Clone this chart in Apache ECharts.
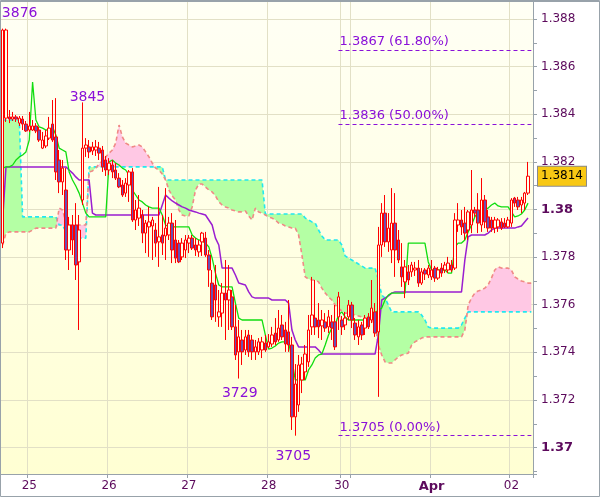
<!DOCTYPE html>
<html><head><meta charset="utf-8">
<script src="https://cdn.jsdelivr.net/npm/echarts@6/dist/echarts.min.js"></script>
<style>html,body{margin:0;padding:0;background:#fff}#c{width:600px;height:497px}</style>
</head><body><div id="c"></div>
<script>
// trading sessions: [day, first hour, number of hourly bars]
const sessions = [['24',16,8],['25',0,24],['26',0,24],['27',0,24],['28',0,22],['30',21,3],['31',0,24],['01',0,24],['02',0,7]];
const sessionLabels = ['', '25', '26', '27', '28', '30', '', 'Apr', '02'];

// [open, close, low, high]
const candles = [
[1.37859,1.38754,1.37838,1.38760],[1.38384,1.38754,1.38368,1.38760],[1.38389,1.38380,1.38363,1.38418],[1.38380,1.38389,1.38372,1.38410],[1.38389,1.38380,1.38368,1.38397],
[1.38363,1.38384,1.38351,1.38393],[1.38380,1.38359,1.38334,1.38393],[1.38359,1.38330,1.38326,1.38372],[1.38334,1.38351,1.38326,1.38410],[1.38334,1.38351,1.38330,1.38376],
[1.38351,1.38330,1.38321,1.38363],[1.38334,1.38292,1.38284,1.38347],[1.38258,1.38292,1.38254,1.38326],[1.38267,1.38309,1.38258,1.38334],[1.38300,1.38342,1.38292,1.38389],
[1.38359,1.38292,1.38284,1.38460],[1.38305,1.38158,1.38124,1.38468],[1.38208,1.38116,1.38069,1.38250],[1.38116,1.38174,1.38061,1.38208],[1.38082,1.37830,1.37788,1.38174],
[1.37830,1.37935,1.37746,1.37969],[1.37935,1.37872,1.37809,1.37977],[1.37935,1.37767,1.37704,1.38027],[1.37780,1.37914,1.37494,1.37977],[1.38040,1.38258,1.38019,1.38450],
[1.38258,1.38271,1.38221,1.38300],[1.38263,1.38242,1.38216,1.38292],[1.38246,1.38263,1.38229,1.38284],[1.38250,1.38263,1.38225,1.38292],[1.38258,1.38237,1.38208,1.38284],
[1.38250,1.38179,1.38158,1.38267],[1.38208,1.38166,1.38141,1.38225],[1.38166,1.38195,1.38145,1.38216],[1.38187,1.38158,1.38132,1.38208],[1.38166,1.38132,1.38124,1.38195],
[1.38132,1.38095,1.38090,1.38153],[1.38103,1.38061,1.38053,1.38124],[1.38069,1.38111,1.38053,1.38132],[1.38103,1.38158,1.38032,1.38166],[1.38158,1.37956,1.37948,1.38174],
[1.37956,1.37998,1.37914,1.38040],[1.37964,1.38006,1.37931,1.38061],[1.37977,1.37901,1.37859,1.37998],[1.37901,1.37943,1.37817,1.37956],[1.37927,1.37948,1.37801,1.38011],
[1.37931,1.37956,1.37788,1.37969],[1.37914,1.37859,1.37801,1.37943],[1.37864,1.37885,1.37759,1.38095],[1.37893,1.37859,1.37809,1.37977],[1.37889,1.37922,1.37788,1.38090],
[1.37893,1.37943,1.37872,1.37969],[1.37943,1.37830,1.37775,1.37985],[1.37872,1.37796,1.37775,1.37956],[1.37859,1.37780,1.37775,1.37872],[1.37801,1.37859,1.37788,1.37880],
[1.37830,1.37872,1.37796,1.37893],[1.37859,1.37880,1.37817,1.37893],[1.37880,1.37838,1.37830,1.37893],[1.37851,1.37830,1.37805,1.37880],[1.37822,1.37851,1.37801,1.37872],
[1.37864,1.37901,1.37805,1.37906],[1.37880,1.37809,1.37801,1.37906],[1.37809,1.37746,1.37675,1.37830],[1.37691,1.37549,1.37536,1.37746],[1.37683,1.37620,1.37528,1.37767],
[1.37549,1.37570,1.37507,1.37662],[1.37565,1.37649,1.37507,1.37691],[1.37649,1.37620,1.37452,1.37788],[1.37620,1.37662,1.37494,1.37767],[1.37633,1.37507,1.37494,1.37662],
[1.37507,1.37389,1.37368,1.37599],[1.37402,1.37465,1.37290,1.37536],[1.37452,1.37402,1.37347,1.37494],[1.37410,1.37465,1.37389,1.37494],[1.37473,1.37402,1.37381,1.37494],
[1.37452,1.37402,1.37368,1.37473],[1.37402,1.37423,1.37368,1.37452],[1.37402,1.37444,1.37389,1.37460],[1.37410,1.37444,1.37376,1.37465],[1.37439,1.37410,1.37402,1.37473],
[1.37423,1.37444,1.37418,1.37477],[1.37435,1.37473,1.37423,1.37507],[1.37481,1.37444,1.37431,1.37544],[1.37452,1.37502,1.37444,1.37578],[1.37515,1.37465,1.37452,1.37557],
[1.37494,1.37435,1.37402,1.37528],[1.37486,1.37431,1.37402,1.37620],[1.37431,1.37129,1.37074,1.37465],[1.37129,1.37267,1.37050,1.37351],[1.37179,1.37347,1.37150,1.37389],
[1.37284,1.37351,1.37229,1.37381],[1.37318,1.37393,1.37284,1.37431],[1.37360,1.37494,1.37339,1.37557],[1.37507,1.37557,1.37473,1.37717],[1.37544,1.37507,1.37473,1.37704],
[1.37536,1.37507,1.37460,1.37607],[1.37511,1.37536,1.37452,1.37578],[1.37528,1.37502,1.37486,1.37565],[1.37507,1.37549,1.37481,1.37578],[1.37528,1.37502,1.37452,1.37557],
[1.37528,1.37423,1.37410,1.37599],[1.37549,1.37633,1.37494,1.37654],[1.37536,1.37507,1.37473,1.37553],[1.37515,1.37544,1.37494,1.37570],[1.37549,1.37599,1.37536,1.37620],
[1.37599,1.37536,1.37502,1.37612],[1.37523,1.37473,1.37452,1.37544],[1.37465,1.37507,1.37431,1.37536],[1.37515,1.37473,1.37452,1.37528],[1.37502,1.37544,1.37473,1.37557],
[1.37549,1.37507,1.37498,1.37565],[1.37536,1.37586,1.37523,1.37704],[1.37570,1.37481,1.37465,1.37607],[1.37486,1.37851,1.37213,1.37927],[1.37851,1.37985,1.37801,1.38027],
[1.37985,1.37864,1.37843,1.38061],[1.37864,1.37922,1.37822,1.37985],[1.37830,1.37943,1.37775,1.38090],[1.37943,1.37830,1.37717,1.38069],[1.37872,1.37788,1.37775,1.37914],
[1.37759,1.37717,1.37675,1.37859],[1.37696,1.37759,1.37628,1.37788],[1.37738,1.37704,1.37683,1.37767],[1.37738,1.37767,1.37717,1.37780],[1.37746,1.37754,1.37721,1.37780],
[1.37754,1.37691,1.37675,1.37788],[1.37691,1.37738,1.37683,1.37754],[1.37746,1.37729,1.37704,1.37754],[1.37725,1.37754,1.37712,1.37767],[1.37717,1.37746,1.37704,1.37788],
[1.37754,1.37712,1.37696,1.37763],[1.37712,1.37746,1.37704,1.37759],[1.37754,1.37733,1.37717,1.37775],[1.37746,1.37767,1.37733,1.37780],[1.37746,1.37775,1.37733,1.37801],
[1.37767,1.37746,1.37738,1.37788],[1.37754,1.37956,1.37746,1.37985],[1.37935,1.37956,1.37906,1.38027],[1.37956,1.37927,1.37893,1.37998],[1.37943,1.37901,1.37872,1.38011],
[1.37914,1.37990,1.37872,1.37998],[1.37935,1.37998,1.37901,1.38166],[1.37998,1.37985,1.37969,1.38011],[1.37998,1.37943,1.37901,1.38069],[1.37935,1.38040,1.37906,1.38132],
[1.38040,1.37948,1.37922,1.38061],[1.37969,1.37922,1.37906,1.37998],[1.37956,1.37922,1.37906,1.37969],[1.37922,1.37956,1.37901,1.37969],[1.37927,1.37956,1.37906,1.37964],
[1.37948,1.37922,1.37914,1.37964],[1.37943,1.37927,1.37922,1.37964],[1.37927,1.37956,1.37922,1.37969],[1.37943,1.38040,1.37927,1.38048],[1.38048,1.38027,1.38011,1.38053],
[1.38040,1.38011,1.37998,1.38053],[1.38019,1.38040,1.37985,1.38053],[1.38027,1.38069,1.37998,1.38074],[1.38069,1.38140,1.38061,1.38200]
];

const tenkan = [
1.38174,1.38179,1.38179,1.38187,1.38208,1.38221,1.38229,1.38242,1.38292,1.38536,
1.38376,1.38347,1.38342,1.38334,1.38334,1.38347,1.38313,1.38258,1.38250,1.38242,
1.38158,1.38124,1.38099,1.38069,1.38027,1.37985,1.37969,1.37969,1.37969,1.37969,
1.37969,1.37969,1.38200,1.38208,1.38195,1.38187,1.38174,1.38166,1.38145,1.38082,
1.38061,1.38040,1.38032,1.38019,1.38011,1.38006,1.38006,1.38006,1.37977,1.37935,
1.37927,1.37927,1.37927,1.37927,1.37927,1.37927,1.37927,1.37893,1.37880,1.37872,
1.37868,1.37859,1.37843,1.37796,1.37733,1.37683,1.37675,1.37675,1.37675,1.37675,
1.37607,1.37544,1.37536,1.37536,1.37536,1.37536,1.37536,1.37536,1.37536,1.37473,
1.37414,1.37418,1.37427,1.37439,1.37444,1.37444,1.37444,1.37368,1.37284,1.37284,
1.37284,1.37284,1.37326,1.37347,1.37376,1.37389,1.37393,1.37431,1.37473,1.37502,
1.37515,1.37557,1.37570,1.37549,1.37536,1.37536,1.37536,1.37536,1.37536,1.37536,
1.37536,1.37544,1.37565,1.37578,1.37586,1.37620,1.37641,1.37649,1.37649,1.37649,
1.37649,1.37649,1.37859,1.37859,1.37859,1.37859,1.37859,1.37859,1.37780,1.37746,
1.37746,1.37746,1.37746,1.37746,1.37733,1.37733,1.37843,1.37859,1.37859,1.37872,
1.37906,1.37935,1.37969,1.37990,1.37994,1.37998,1.38006,1.38019,1.38027,1.38015,
1.38011,1.38011,1.38011,1.37990,1.37969,1.37973,1.37981,1.37998,1.38027
];

const kijun = [
1.37956,1.38179,1.38179,1.38179,1.38179,1.38179,1.38179,1.38179,1.38179,1.38179,
1.38179,1.38179,1.38179,1.38179,1.38179,1.38179,1.38179,1.38179,1.38179,1.38179,
1.38166,1.38153,1.38137,1.38124,1.38124,1.38124,1.38124,1.37985,1.37977,1.37977,
1.37977,1.37977,1.37977,1.37977,1.37977,1.37977,1.37977,1.37977,1.37977,1.37977,
1.37977,1.37977,1.37977,1.37977,1.37977,1.37977,1.37977,1.37977,1.38019,1.38061,
1.38048,1.38036,1.38027,1.38019,1.38011,1.38006,1.37998,1.37994,1.37990,1.37985,
1.37981,1.37977,1.37956,1.37935,1.37880,1.37851,1.37754,1.37754,1.37754,1.37754,
1.37725,1.37691,1.37687,1.37683,1.37654,1.37633,1.37628,1.37628,1.37628,1.37628,
1.37628,1.37620,1.37620,1.37620,1.37620,1.37620,1.37607,1.37494,1.37452,1.37423,
1.37423,1.37423,1.37423,1.37423,1.37423,1.37410,1.37393,1.37393,1.37393,1.37393,
1.37393,1.37393,1.37393,1.37393,1.37393,1.37393,1.37393,1.37393,1.37393,1.37393,
1.37393,1.37393,1.37393,1.37473,1.37620,1.37628,1.37637,1.37649,1.37654,1.37654,
1.37654,1.37654,1.37654,1.37654,1.37654,1.37654,1.37654,1.37654,1.37654,1.37654,
1.37654,1.37654,1.37654,1.37654,1.37654,1.37654,1.37654,1.37654,1.37654,1.37788,
1.37885,1.37893,1.37893,1.37893,1.37893,1.37893,1.37901,1.37914,1.37922,1.37922,
1.37922,1.37922,1.37922,1.37922,1.37922,1.37927,1.37931,1.37948,1.37964
];

const spanA = [
1.38376,1.38376,1.38376,1.38376,1.38376,1.38376,1.37969,1.37969,1.37969,1.37969,
1.37969,1.37969,1.37969,1.37969,1.37969,1.37969,1.37969,1.37935,1.37935,1.37906,
1.37880,1.37880,1.37880,1.37880,1.37880,1.37880,1.38179,1.38179,1.38179,1.38179,
1.38179,1.38179,1.38179,1.38179,1.38179,1.38179,1.38179,1.38179,1.38179,1.38179,
1.38179,1.38179,1.38179,1.38179,1.38179,1.38179,1.38179,1.38179,1.38179,1.38124,
1.38124,1.38124,1.38124,1.38124,1.38124,1.38124,1.38124,1.38124,1.38124,1.38124,
1.38124,1.38124,1.38124,1.38124,1.38124,1.38124,1.38124,1.38124,1.38124,1.38124,
1.38124,1.38124,1.38124,1.38124,1.38124,1.38124,1.38124,1.38124,1.38124,1.37981,
1.37981,1.37981,1.37981,1.37981,1.37981,1.37981,1.37981,1.37981,1.37981,1.37981,
1.37981,1.37964,1.37956,1.37948,1.37943,1.37914,1.37889,1.37872,1.37872,1.37872,
1.37872,1.37872,1.37851,1.37805,1.37796,1.37788,1.37780,1.37771,1.37763,1.37754,
1.37754,1.37754,1.37754,1.37704,1.37641,1.37628,1.37599,1.37570,1.37570,1.37570,
1.37570,1.37570,1.37570,1.37570,1.37570,1.37570,1.37557,1.37536,1.37507,1.37502,
1.37502,1.37502,1.37502,1.37502,1.37502,1.37502,1.37502,1.37502,1.37515,1.37544,
1.37570,1.37570,1.37570,1.37570,1.37570,1.37570,1.37570,1.37570,1.37570,1.37570,
1.37570,1.37570,1.37570,1.37570,1.37570,1.37570,1.37570,1.37570,1.37570,1.37570
];

const spanB = [
1.37851,1.37901,1.37906,1.37906,1.37906,1.37906,1.37906,1.37906,1.37906,1.37914,
1.37922,1.37922,1.37922,1.37922,1.37922,1.37922,1.37922,1.38006,1.37998,1.37948,
1.37935,1.37935,1.37935,1.37935,1.37935,1.37935,1.38158,1.38162,1.38174,1.38191,
1.38204,1.38221,1.38237,1.38250,1.38279,1.38355,1.38305,1.38279,1.38271,1.38263,
1.38267,1.38271,1.38263,1.38242,1.38221,1.38195,1.38174,1.38166,1.38149,1.38124,
1.38082,1.38057,1.38040,1.37998,1.37977,1.37973,1.37973,1.38011,1.38082,1.38107,
1.38107,1.38095,1.38082,1.38074,1.38057,1.38032,1.38019,1.38011,1.38006,1.37998,
1.37994,1.37990,1.37990,1.37994,1.37973,1.37956,1.38006,1.37990,1.37985,1.37977,
1.37969,1.37964,1.37956,1.37943,1.37939,1.37931,1.37927,1.37922,1.37922,1.37893,
1.37809,1.37717,1.37708,1.37704,1.37704,1.37696,1.37670,1.37649,1.37633,1.37620,
1.37599,1.37586,1.37574,1.37565,1.37565,1.37561,1.37557,1.37553,1.37549,1.37544,
1.37540,1.37536,1.37515,1.37431,1.37389,1.37360,1.37355,1.37355,1.37368,1.37381,
1.37389,1.37393,1.37397,1.37431,1.37444,1.37452,1.37460,1.37465,1.37465,1.37465,
1.37465,1.37465,1.37465,1.37465,1.37465,1.37465,1.37465,1.37465,1.37465,1.37494,
1.37599,1.37628,1.37649,1.37658,1.37662,1.37670,1.37683,1.37712,1.37746,1.37759,
1.37754,1.37754,1.37754,1.37746,1.37717,1.37708,1.37700,1.37696,1.37691,1.37691
];

const fibLevels = [[1.3867,'61.80%'],[1.3836,'50.00%'],[1.3705,'0.00%']];
const peakMarks = [[0,'high'],[24,'high'],[71,'low'],[88,'low']];
const yMin = 1.36889, yMax = 1.38876;

// build category axis
const categories = [], dayStart = {}, dayLabel = {};
sessions.forEach((s, k) => {
  for (let h = 0; h < s[2]; h++) {
    if (h === 0 && k > 0) { dayStart[categories.length] = true; if (sessionLabels[k]) dayLabel[categories.length] = sessionLabels[k]; }
    categories.push(s[0] + ' ' + String(s[1] + h).padStart(2, '0') + ':00');
  }
});

const cloudLow = spanA.map((a, i) => Math.min(a, spanB[i]));
const greenBand = spanA.map((a, i) => a > spanB[i] ? a - spanB[i] : 0);
const pinkBand = spanA.map((a, i) => spanB[i] > a ? spanB[i] - a : 0);

const purple = '#8a10d8';
const txt = '#5c0a5c';
const gridC = '#e2e0c6';
const axisC = '#98a2aa';
const font = 'DejaVu Sans';
const lastClose = candles[candles.length - 1][1];
const fibStyle = {color: purple, width: 1, type: [4, 3], opacity: 1};

const fibLines = fibLevels.map(f => [
  {coord: [categories[101], f[0]], lineStyle: fibStyle,
   label: {formatter: f[0].toFixed(4) + ' (' + f[1] + ')', position: 'insideStartTop', color: purple, fontFamily: font, fontSize: 13}},
  {coord: [categories[categories.length - 1], f[0]], lineStyle: fibStyle}
]);
const peaks = peakMarks.map(p => {
  const c = candles[p[0]];
  const v = p[1] === 'high' ? c[3] : c[2];
  return {coord: [categories[p[0]], v], name: String(Math.round(v * 10000)).slice(-4),
          label: {position: p[1] === 'high' ? 'top' : 'bottom'}};
});
peaks[0].label.offset = [17, -4];
peaks[1].label.offset = [5, 6];
peaks[2].label.offset = [1, 3];
peaks[3].label.offset = [-2, 9];

const chart = echarts.init(document.getElementById('c'), null, {renderer: 'canvas'});
chart.setOption({
  animation: false,
  backgroundColor: '#ffffff',
  grid: {left: 1, right: 67, top: 1, bottom: 23, show: true, borderWidth: 0,
    backgroundColor: new echarts.graphic.LinearGradient(0, 0, 0, 1, [{offset: 0, color: '#fffff5'}, {offset: 1, color: '#ffffd3'}])},
  graphic: [{type: 'rect', shape: {x: 0.5, y: 0.5, width: 599, height: 496}, style: {fill: 'none', stroke: axisC, lineWidth: 1}, z: 100, silent: true},
            {type: 'line', shape: {x1: 0, y1: 1.5, x2: 600, y2: 1.5}, style: {stroke: axisC, lineWidth: 1}, z: 100, silent: true}],
  xAxis: {
    type: 'category', data: categories, boundaryGap: true,
    axisLine: {lineStyle: {color: axisC}},
    axisTick: {show: true, length: 4, interval: i => !!dayStart[i], lineStyle: {color: axisC}},
    axisLabel: {interval: i => dayLabel[i] !== undefined, margin: 6, color: txt, fontFamily: font, fontSize: 12,
      formatter: (v, i) => { const l = dayLabel[i] || ''; return l === 'Apr' ? '{b|Apr}' : l; },
      rich: {b: {fontWeight: 'bold', fontSize: 13, color: txt, fontFamily: font}}},
    splitLine: {show: true, interval: i => !!dayStart[i], lineStyle: {color: gridC}}
  },
  yAxis: [{
    type: 'value', position: 'right', min: yMin, max: yMax, splitNumber: 10,
    axisLine: {show: true, lineStyle: {color: axisC}}, axisTick: {show: false},
    axisLabel: {margin: 8, color: txt, fontFamily: font, fontSize: 12, showMinLabel: false, showMaxLabel: false,
      formatter: v => { const r = Math.round(v * 1000) / 1000; return Math.abs(r * 100 - Math.round(r * 100)) < 1e-6 ? '{b|' + r.toFixed(2) + '}' : r.toFixed(3); },
      rich: {b: {fontWeight: 'bold', fontSize: 13, color: txt, fontFamily: font}}},
    splitLine: {show: true, lineStyle: {color: gridC}}
  }, {
    type: 'value', position: 'right', min: yMin, max: yMax, splitNumber: 20,
    axisLine: {show: false}, axisLabel: {show: false}, splitLine: {show: false},
    axisTick: {show: true, length: 4, lineStyle: {color: axisC}}
  }],
  series: [
    {type: 'line', data: cloudLow, stack: 'g', symbol: 'none', lineStyle: {width: 0, opacity: 0}, silent: true, z: 1},
    {type: 'line', data: greenBand, stack: 'g', symbol: 'none', lineStyle: {width: 0, opacity: 0}, areaStyle: {color: '#b4ffa4', opacity: 1}, silent: true, z: 1},
    {type: 'line', data: cloudLow, stack: 'p', symbol: 'none', lineStyle: {width: 0, opacity: 0}, silent: true, z: 1},
    {type: 'line', data: pinkBand, stack: 'p', symbol: 'none', lineStyle: {width: 0, opacity: 0}, areaStyle: {color: '#ffc8e4', opacity: 1}, silent: true, z: 1},
    {type: 'line', data: spanA, symbol: 'none', lineStyle: {color: '#22e8f0', width: 1.6, type: [4, 3]}, silent: true, z: 2},
    {type: 'line', data: spanB, symbol: 'none', lineStyle: {color: '#f08a86', width: 1.6, type: [4, 3]}, silent: true, z: 2},
    {type: 'line', data: kijun, symbol: 'none', lineStyle: {color: '#9a1ed0', width: 1.5}, silent: true, z: 3, clip: false,
      markLine: {silent: true, symbol: ['none', 'none'], animation: false, precision: 5,
        data: [{yAxis: lastClose, lineStyle: {color: 'rgba(0,0,0,0)', width: 1},
          label: {show: true, opacity: 1, position: 'end', distance: 5, formatter: lastClose.toFixed(4), color: '#000', fontFamily: font, fontSize: 12,
            padding: [4, 3, 3, 3], borderColor: '#8a8a8a', borderWidth: 1, backgroundColor: '#f8c814'}}]}},
    {type: 'line', data: tenkan, symbol: 'none', lineStyle: {color: '#10dd10', width: 1.3}, silent: true, z: 3},
    {type: 'candlestick', data: candles, barWidth: 3, silent: true, z: 5,
      itemStyle: {color: '#ffffea', color0: '#6c4fb0', borderColor: '#ff0000', borderColor0: '#ff0000', borderWidth: 1},
      markLine: {silent: true, symbol: ['none', 'none'], animation: false, precision: 5,
        lineStyle: fibStyle,
        label: {position: 'insideStartTop', distance: [1, 2], color: purple, fontFamily: font, fontSize: 13},
        data: fibLines},
      markPoint: {silent: true, symbol: 'circle', symbolSize: 1, itemStyle: {color: 'rgba(0,0,0,0)'}, animation: false,
        label: {show: true, formatter: '{b}', color: purple, fontFamily: font, fontSize: 14, distance: 4},
        data: peaks}
    }
  ]
});
</script></body></html>
